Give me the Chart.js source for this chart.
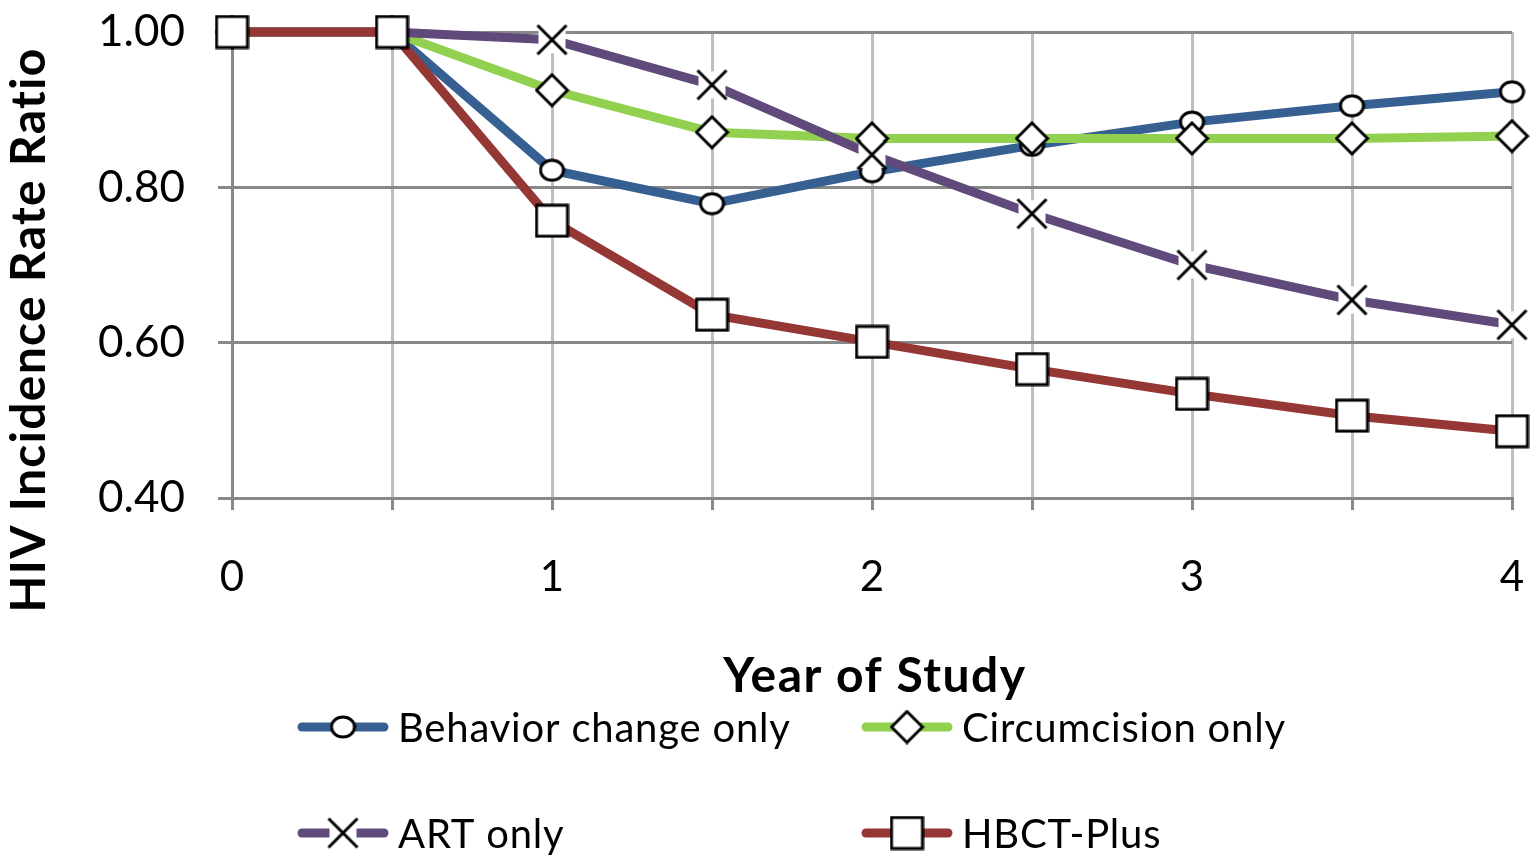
<!DOCTYPE html>
<html>
<head>
<meta charset="utf-8">
<script src="https://cdn.jsdelivr.net/npm/chart.js@4"></script>
<style>
  html, body { margin: 0; padding: 0; background: #fff; }
  #chart { display: block; }
</style>
</head>
<body>
<canvas id="chart" width="1537" height="865"></canvas>
<script>
const years = ["0", "0.5", "1", "1.5", "2", "2.5", "3", "3.5", "4"];
const behavior = [1.00, 1.00, 0.822, 0.779, 0.820, 0.854, 0.884, 0.905, 0.923];
const circumcision = [1.00, 1.00, 0.925, 0.871, 0.863, 0.863, 0.863, 0.863, 0.866];
const artOnly = [1.00, 1.00, 0.990, 0.932, 0.842, 0.766, 0.700, 0.655, 0.623];
const hbctPlus = [1.00, 1.00, 0.757, 0.636, 0.601, 0.566, 0.534, 0.506, 0.486];
const seriesNames = ["Behavior change only", "Circumcision only", "ART only", "HBCT-Plus"];
const yTicks = [0.40, 0.60, 0.80, 1.00];

const FONT = "Lato, 'Liberation Sans', sans-serif";

// marker images, white fill with black outline like the original
function makeMarker(kind) {
  const c = document.createElement("canvas");
  const s = kind === "circle" ? 27 : 35;
  c.width = s;
  c.height = kind === "circle" ? 24 : s;
  const g = c.getContext("2d");
  g.lineWidth = 3;
  g.strokeStyle = "#000";
  g.fillStyle = "#fff";
  if (kind === "square") {
    g.fillRect(2, 2, s - 4, s - 4);
    g.strokeRect(2, 2, s - 4, s - 4);
  } else if (kind === "circle") {
    g.beginPath();
    g.ellipse(c.width / 2, c.height / 2, c.width / 2 - 2, c.height / 2 - 2, 0, 0, Math.PI * 2);
    g.fill();
    g.stroke();
  } else if (kind === "diamond") {
    g.beginPath();
    g.moveTo(s / 2, 2);
    g.lineTo(s - 2, s / 2);
    g.lineTo(s / 2, s - 2);
    g.lineTo(2, s / 2);
    g.closePath();
    g.fill();
    g.stroke();
  } else if (kind === "cross") {
    g.fillRect(4, 4, s - 8, s - 8);
    g.beginPath();
    g.moveTo(3, 3); g.lineTo(s - 3, s - 3);
    g.moveTo(s - 3, 3); g.lineTo(3, s - 3);
    g.stroke();
  }
  return c;
}

const markers = [makeMarker("circle"), makeMarker("diamond"), makeMarker("cross"), makeMarker("square")];
const colors = ["#376092", "#92D050", "#604A7B", "#953735"];
const seriesData = [behavior, circumcision, artOnly, hbctPlus];

const datasets = seriesData.map((d, i) => ({
  label: seriesNames[i],
  data: d,
  borderColor: colors[i],
  backgroundColor: colors[i],
  borderWidth: 9,
  pointStyle: markers[i],
  pointRadius: 16,
  tension: 0,
  clip: false,
  order: 4 - i
}));

const titlesAndLegend = {
  id: "titlesAndLegend",
  afterDraw(chart) {
    const ctx = chart.ctx;
    ctx.save();
    ctx.fillStyle = "#000";
    ctx.font = "bold 48px " + FONT;
    ctx.textAlign = "center";
    ctx.textBaseline = "middle";
    ctx.letterSpacing = "1.5px";
    ctx.fillText("Year of Study", 875, 677);

    ctx.save();
    ctx.translate(30, 330);
    ctx.rotate(-Math.PI / 2);
    ctx.letterSpacing = "1.3px";
    ctx.fillText("HIV Incidence Rate Ratio", 0, 0);
    ctx.restore();

    const spots = [[298, 727], [862, 727], [298, 833], [862, 833]];
    ctx.font = "40px " + FONT;
    ctx.letterSpacing = "0.8px";
    ctx.textAlign = "left";
    seriesNames.forEach((name, i) => {
      const [x, y] = spots[i];
      ctx.strokeStyle = colors[i];
      ctx.lineWidth = 9;
      ctx.lineCap = "round";
      ctx.beginPath();
      ctx.moveTo(x + 4, y);
      ctx.lineTo(x + 86, y);
      ctx.stroke();
      const m = markers[i];
      ctx.drawImage(m, x + 45 - m.width / 2, y - m.height / 2);
      ctx.fillStyle = "#000";
      ctx.fillText(name, x + 100, y + 2);
    });
    ctx.restore();
  }
};

new Chart(document.getElementById("chart").getContext("2d"), {
  type: "line",
  data: { labels: years, datasets: datasets },
  options: {
    responsive: false,
    animation: false,
    devicePixelRatio: 1,
    layout: { padding: { left: 0, right: 20, top: 32, bottom: 255 } },
    plugins: { legend: { display: false }, tooltip: { enabled: false } },
    scales: {
      x: {
        type: "category",
        offset: false,
        grid: { color: "#bfbfbf", lineWidth: 3, tickColor: "#888", tickLength: 12 },
        border: { color: "#888", width: 3 },
        ticks: {
          autoSkip: false,
          maxRotation: 0,
          padding: 42,
          color: "#000",
          font: { family: FONT, size: 42 },
          callback: function (v, i) {
            const lab = years[i];
            return Number.isInteger(Number(lab)) ? lab : "";
          }
        },
        // fixed size, and no extra side room for the end labels
        afterFit: s => { s.height = 112; s.paddingLeft = 0; s.paddingRight = 0; }
      },
      y: {
        min: 0.4,
        max: 1.0,
        afterBuildTicks: s => { s.ticks = yTicks.map(v => ({ value: v })); },
        grid: { color: "#888", lineWidth: 3, tickColor: "#888", tickLength: 14 },
        border: { color: "#888", width: 3 },
        ticks: {
          padding: 33,
          color: "#000",
          font: { family: FONT, size: 44 },
          callback: v => Number(v).toFixed(2)
        },
        afterFit: s => { s.width = 232; s.paddingTop = 0; s.paddingBottom = 0; }
      }
    }
  },
  plugins: [titlesAndLegend]
});
</script>
</body>
</html>
